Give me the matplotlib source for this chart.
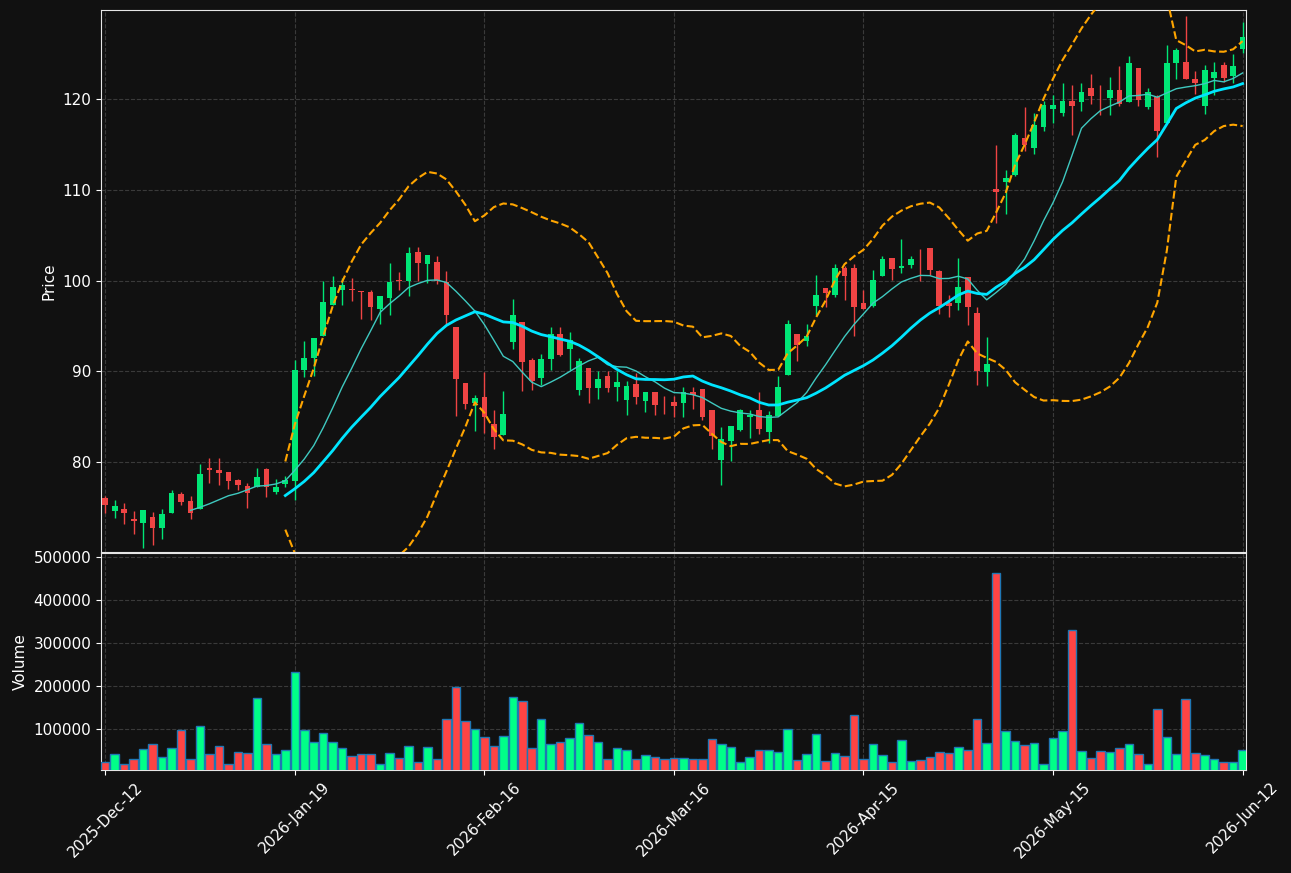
import numpy as np
import pandas as pd
import matplotlib
matplotlib.use("Agg")
import matplotlib.pyplot as plt

# daily OHLC (121 sessions)
opens = [76.02, 74.55, 74.84, 73.66, 73.22, 73.96, 72.67, 74.33, 76.5, 75.73,
         74.77, 79.37, 79.15, 78.9, 77.94, 77.38, 77.2, 79.26, 76.65, 77.53,
         77.93, 90.11, 91.44, 93.87, 97.3, 98.97, 99.1, 98.8, 98.7, 96.86,
         98.08, 100.0, 100.0, 103.1, 101.88, 102.0, 99.8, 94.9, 88.7, 86.49,
         87.18, 84.21, 83.0, 93.26, 95.38, 91.25, 89.3, 91.4, 94.1, 92.42,
         87.9, 90.37, 88.2, 89.49, 88.3, 86.8, 88.6, 86.67, 87.7, 86.5,
         86.6, 86.45, 87.73, 88.0, 85.7, 80.22, 82.32, 83.54, 84.94, 85.75,
         83.32, 85.08, 89.54, 94.14, 93.3, 97.24, 99.19, 98.38, 101.4, 101.4,
         97.57, 97.24, 100.55, 102.5, 101.36, 101.77, 101.98, 103.6, 101.1, 97.53,
         97.5, 100.4, 96.43, 89.87, 110.1, 110.9, 111.6, 115.7, 114.6, 116.9,
         118.93, 118.53, 119.85, 119.74, 121.2, 120.25, 120.18, 121.03, 119.74, 123.42,
         119.2, 120.3, 117.35, 123.97, 124.15, 122.2, 119.3, 122.4, 123.75, 122.57,
         125.55]
highs = [76.2, 75.8, 75.47, 74.62, 74.73, 74.48, 74.8, 76.9, 76.65, 76.28,
         79.78, 80.37, 80.37, 78.9, 78.05, 77.68, 79.37, 79.37, 78.05, 78.49,
         91.29, 93.36, 93.62, 100.0, 100.5, 100.3, 100.3, 98.8, 98.97, 98.27,
         101.99, 100.9, 103.65, 103.65, 102.8, 102.73, 101.07, 94.9, 88.7, 87.42,
         89.96, 85.75, 87.8, 98.0, 95.38, 91.43, 91.9, 94.9, 94.9, 94.29,
         91.43, 90.37, 90.04, 90.07, 90.0, 88.9, 89.8, 87.7, 87.7, 87.3,
         87.3, 88.25, 88.25, 88.0, 85.7, 83.83, 83.98, 85.86, 85.75, 87.66,
         85.56, 89.47, 95.7, 94.14, 95.2, 100.66, 99.19, 101.84, 101.6, 101.84,
         98.97, 101.2, 102.76, 102.5, 104.6, 102.69, 103.5, 103.6, 101.2, 98.45,
         102.5, 100.4, 97.1, 93.78, 115.0, 112.2, 116.3, 119.1, 118.5, 119.8,
         120.48, 121.76, 121.58, 121.76, 122.76, 121.58, 122.43, 123.68, 124.78, 123.42,
         121.2, 120.48, 126.0, 125.7, 129.2, 123.1, 123.8, 124.15, 124.15, 124.96,
         128.57]
lows = [74.4, 73.8, 73.15, 72.04, 70.5, 70.83, 71.5, 74.33, 75.29, 73.7,
        74.77, 77.68, 77.46, 77.02, 76.94, 74.92, 77.2, 76.13, 76.46, 77.24,
        75.8, 89.37, 89.5, 93.87, 97.3, 97.3, 97.8, 95.8, 95.65, 95.24,
        96.24, 99.0, 98.27, 100.0, 99.78, 99.6, 95.17, 85.1, 85.83, 83.36,
        83.19, 81.43, 83.0, 92.42, 87.84, 87.95, 88.5, 90.15, 91.7, 90.15,
        87.4, 86.5, 86.9, 87.7, 86.7, 85.2, 86.37, 85.46, 85.13, 85.24,
        84.9, 85.0, 85.8, 84.57, 81.47, 77.4, 80.04, 83.35, 82.6, 83.06,
        82.06, 85.08, 89.54, 91.09, 92.74, 96.24, 97.05, 98.16, 97.83, 93.85,
        96.87, 97.1, 100.55, 100.04, 100.85, 101.4, 99.93, 100.66, 96.3, 95.95,
        96.8, 95.1, 88.47, 88.4, 106.4, 107.3, 111.5, 114.3, 114.0, 116.5,
        117.35, 118.16, 116.03, 118.75, 119.52, 118.23, 118.23, 119.3, 119.74, 119.3,
        118.93, 113.6, 117.35, 122.2, 122.2, 120.6, 118.4, 120.48, 121.95, 121.84,
        125.15]
closes = [75.28, 75.18, 74.33, 73.44, 74.73, 72.67, 74.29, 76.61, 75.54, 74.33,
          78.71, 79.08, 78.75, 77.86, 77.42, 76.54, 78.38, 77.2, 77.27, 77.97,
          90.18, 91.51, 93.62, 97.6, 99.26, 99.56, 99.0, 98.75, 97.08, 98.27,
          99.8, 99.98, 103.0, 101.99, 102.8, 100.0, 96.2, 89.11, 86.42, 87.05,
          84.91, 82.71, 85.27, 96.19, 91.06, 88.94, 91.3, 94.1, 91.83, 93.4,
          91.13, 88.2, 89.16, 88.1, 88.8, 88.4, 87.1, 87.7, 86.3, 86.45,
          86.2, 87.66, 87.33, 85.0, 82.8, 82.5, 83.98, 85.7, 85.16, 83.65,
          85.2, 88.29, 95.25, 92.85, 93.92, 98.45, 98.64, 101.4, 100.55, 97.05,
          96.87, 100.1, 102.43, 101.33, 101.66, 102.43, 101.9, 101.14, 97.24, 97.24,
          99.3, 97.05, 89.98, 90.83, 109.8, 111.3, 116.1, 115.0, 117.2, 119.4,
          119.37, 119.85, 119.26, 120.8, 120.37, 120.2, 121.03, 119.45, 123.97, 119.93,
          120.77, 116.54, 123.97, 125.44, 122.2, 121.76, 123.24, 123.0, 122.4, 123.68,
          126.84]
volumes = [24500, 41600, 19800, 30000, 53300, 66500, 34600, 55600, 97700, 30000,
           108500, 41600, 60300, 19800, 47800, 44000, 174100, 66500, 41600, 51000,
           233000, 99600, 69600, 90600, 69600, 55600, 37000, 41600, 41600, 19800,
           44000, 32300, 60300, 23000, 58000, 30000, 123300, 198000, 118600, 100000,
           81300, 60300, 83600, 174700, 165300, 55600, 123300, 66500, 69600, 79000,
           114000, 86000, 69600, 30000, 55600, 51000, 30000, 39300, 34600, 30000,
           32300, 32300, 30000, 30000, 76600, 65000, 58000, 23000, 34600, 51000,
           51000, 46300, 100000, 27600, 41600, 88300, 25300, 44000, 37000, 132600,
           30000, 65000, 39300, 23000, 74300, 25300, 27600, 34600, 46300, 44000,
           58000, 51000, 123300, 67300, 464000, 95300, 72000, 62600, 67300, 18300,
           79000, 95300, 331000, 48600, 32300, 48600, 46300, 55600, 65000, 41600,
           18300, 146600, 81300, 41600, 170000, 44000, 39300, 30000, 23000, 23000,
           51000]
tick_labels = ["2025-Dec-12", "2026-Jan-19", "2026-Feb-16", "2026-Mar-16",
               "2026-Apr-15", "2026-May-15", "2026-Jun-12"]

df = pd.DataFrame({"Open": opens, "High": highs, "Low": lows,
                   "Close": closes, "Volume": volumes})
x = np.arange(len(df))
ma10 = df["Close"].rolling(10).mean()
ma20 = df["Close"].rolling(20).mean()
sd20 = df["Close"].rolling(20).std(ddof=0)
upper = ma20 + 2 * sd20
lower = ma20 - 2 * sd20

bg = "#111111"
up_c, dn_c = "#00e676", "#ef4444"
vup_c, vdn_c = "#00ff88", "#ff4444"
fg = "#ffffff"

fig = plt.figure(figsize=(12.91, 8.73), dpi=100, facecolor=bg)
ax = fig.add_axes([0.0782, 0.3677, 0.8869, 0.6208])
axv = fig.add_axes([0.0782, 0.1180, 0.8869, 0.2486], sharex=ax)

rising = df["Close"] >= df["Open"]
for a in (ax, axv):
    a.set_facecolor(bg)
    for s in a.spines.values():
        s.set_color("#e6e6e6")
    a.grid(True, color="#3a3a3a", linestyle="--", linewidth=0.8)
    a.set_axisbelow(True)
    a.tick_params(colors=fg, labelsize=11)

# candles
ccol = np.where(rising, up_c, dn_c)
ax.vlines(x, df["Low"], df["High"], colors=ccol, linewidth=1, zorder=2)
body_lo = np.minimum(df["Open"], df["Close"])
body_h = np.maximum((df["Close"] - df["Open"]).abs(), 0.08)
ax.bar(x, body_h, bottom=body_lo, width=0.6, color=ccol, linewidth=0, zorder=3)

ax.plot(x, ma10, color="#3fc9c0", linewidth=1, zorder=4)
ax.plot(x, ma20, color="#00e5ff", linewidth=2, zorder=4)
ax.plot(x, upper, color="#ffa500", linestyle="--", linewidth=1.5, zorder=4)
ax.plot(x, lower, color="#ffa500", linestyle="--", linewidth=1.5, zorder=4)

ax.set_ylim(70.05, 129.85)
ax.set_yticks([80, 90, 100, 110, 120])
ax.set_ylabel("Price", color=fg, fontsize=11)
ax.tick_params(axis="x", length=0, labelbottom=False)

# volume
vcol = np.where(rising, vup_c, vdn_c)
axv.bar(x, df["Volume"], width=0.9, color=vcol, edgecolor="#1f77b4",
        linewidth=1, zorder=3)
axv.set_ylim(0.3 * df["Volume"].min(), 1.1 * df["Volume"].max())
axv.set_yticks([100000, 200000, 300000, 400000, 500000])
axv.ticklabel_format(axis="y", style="plain", useOffset=False)
axv.set_ylabel("Volume", color=fg, fontsize=11)

axv.set_xlim(-0.45, len(df) - 1 + 0.35)
axv.set_xticks(np.arange(0, len(df), 20))
axv.set_xticklabels(tick_labels, rotation=45)

fig.savefig("out.png", dpi=100, facecolor=bg)
